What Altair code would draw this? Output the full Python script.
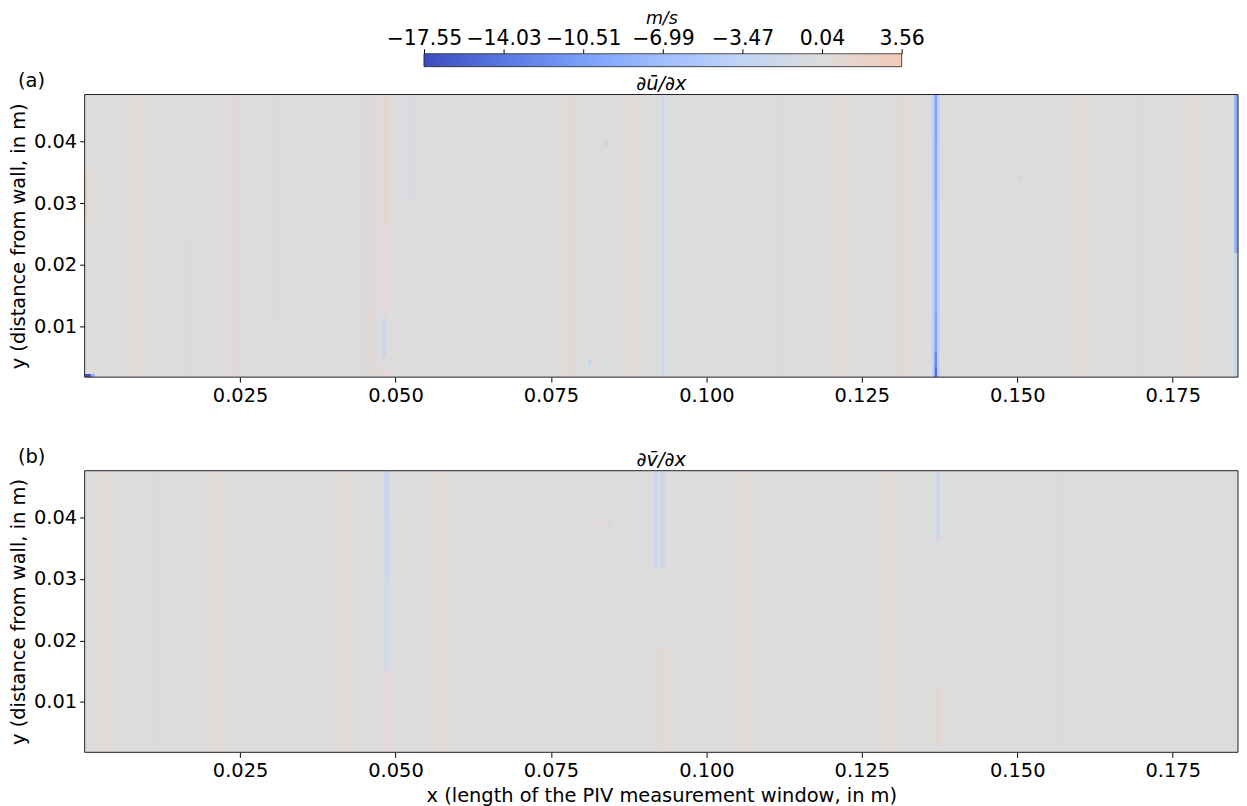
import altair as alt
import pandas as pd

FONT = "DejaVu Sans"

# ---- colour bar / colour map (matplotlib "coolwarm", symmetric norm) ----
CB_TICKS = [-17.55, -14.03, -10.51, -6.99, -3.47, 0.04, 3.56]
CMAP_STOPS = [-17.55, -14.04, -10.53, -8.775, -7.02, -3.51, 0.0, 3.51, 3.56]
CMAP_COLORS = ["#3b4cc0", "#5977e3", "#7b9ff9", "#8db0fe", "#9ebeff",
               "#c0d4f5", "#dddcdc", "#f2cbb7", "#f2cab5"]

# ---- axes ----
X_TICKS = [0.025, 0.05, 0.075, 0.1, 0.125, 0.15, 0.175]
Y_TICKS = [0.01, 0.02, 0.03, 0.04]
X_EXTENT = [0.0, 0.1855]
Y_EXTENT = [0.0018, 0.0476]

# ---- field patches: (x0, x1, y0, y1, value) ----
A_BASE = [(0.0000, 0.1855, 0.0018, 0.0476, 0.0)]
A_BANDS = [
    (0.0000, 0.0030, 0.0018, 0.0476, 0.3),
    (0.0075, 0.0100, 0.0018, 0.0476, 0.3),
    (0.0160, 0.0180, 0.0018, 0.0250, -0.3),
    (0.0235, 0.0260, 0.0018, 0.0476, 0.35),
    (0.0300, 0.0315, 0.0100, 0.0476, -0.3),
    (0.0445, 0.0470, 0.0018, 0.0476, 0.35),
    (0.0522, 0.0530, 0.0300, 0.0476, -0.8),
    (0.0645, 0.0665, 0.0018, 0.0476, 0.3),
    (0.0720, 0.0735, 0.0018, 0.0476, -0.3),
    (0.0770, 0.0790, 0.0018, 0.0476, 0.35),
    (0.0875, 0.0900, 0.0018, 0.0476, 0.3),
    (0.1005, 0.1025, 0.0018, 0.0476, 0.25),
    (0.1110, 0.1125, 0.0018, 0.0476, -0.3),
    (0.1205, 0.1225, 0.0018, 0.0476, 0.3),
    (0.1300, 0.1325, 0.0018, 0.0476, 0.35),
    (0.1450, 0.1470, 0.0018, 0.0476, -0.3),
    (0.1595, 0.1615, 0.0018, 0.0476, 0.3),
    (0.1690, 0.1710, 0.0018, 0.0476, -0.25),
    (0.1775, 0.1795, 0.0018, 0.0476, 0.3),
]
A_FEATURES = [
    (0.0000, 0.0006, 0.0273, 0.0348, 1.5),
    (0.0482, 0.0489, 0.0268, 0.0476, 1.2),
    (0.0482, 0.0489, 0.0120, 0.0268, 0.6),
    (0.0479, 0.0484, 0.0052, 0.0116, -2.8),
    (0.0476, 0.0486, 0.0018, 0.0026, 2.0),
    (0.0927, 0.0933, 0.0018, 0.0476, -1.8),
    (0.0835, 0.0840, 0.0392, 0.0400, -2.5),
    (0.0840, 0.0845, 0.0392, 0.0400, 1.8),
    (0.0810, 0.0815, 0.0036, 0.0046, -3.0),
    (0.0815, 0.0820, 0.0036, 0.0046, 1.5),
    (0.1501, 0.1506, 0.0338, 0.0346, -2.0),
    (0.1506, 0.1511, 0.0054, 0.0062, 1.5),
    (0.1363, 0.1375, 0.0018, 0.0476, -4.0),
    (0.1367, 0.1371, 0.0400, 0.0476, -10.0),
    (0.1367, 0.1371, 0.0300, 0.0400, -9.5),
    (0.1367, 0.1371, 0.0120, 0.0300, -9.0),
    (0.1367, 0.1371, 0.0060, 0.0120, -10.0),
    (0.1367, 0.1371, 0.0035, 0.0060, -12.5),
    (0.1367, 0.1371, 0.0018, 0.0035, -15.0),
    (0.1849, 0.1855, 0.0219, 0.0476, -9.0),
    (0.1849, 0.1855, 0.0018, 0.0219, -2.5),
    (0.0000, 0.0010, 0.0018, 0.0023, -17.55),
    (0.0010, 0.0016, 0.0018, 0.0023, -9.0),
]

B_BASE = [(0.0000, 0.1855, 0.0018, 0.0476, 0.0)]
B_BANDS = [
    (0.0020, 0.0045, 0.0018, 0.0476, 0.25),
    (0.0100, 0.0120, 0.0018, 0.0476, -0.25),
    (0.0200, 0.0225, 0.0018, 0.0476, 0.3),
    (0.0270, 0.0285, 0.0018, 0.0300, -0.3),
    (0.0400, 0.0425, 0.0018, 0.0476, 0.3),
    (0.0560, 0.0585, 0.0018, 0.0476, 0.25),
    (0.0680, 0.0695, 0.0018, 0.0476, -0.25),
    (0.0800, 0.0825, 0.0018, 0.0476, 0.3),
    (0.1050, 0.1075, 0.0018, 0.0476, 0.25),
    (0.1180, 0.1195, 0.0018, 0.0476, -0.25),
    (0.1280, 0.1305, 0.0018, 0.0476, 0.3),
    (0.1420, 0.1445, 0.0018, 0.0476, 0.25),
    (0.1560, 0.1575, 0.0018, 0.0476, -0.25),
    (0.1650, 0.1675, 0.0018, 0.0476, 0.3),
    (0.1790, 0.1810, 0.0018, 0.0476, -0.2),
]
B_FEATURES = [
    (0.0482, 0.0490, 0.0400, 0.0476, -3.0),
    (0.0482, 0.0490, 0.0300, 0.0400, -2.2),
    (0.0482, 0.0490, 0.0150, 0.0300, -1.2),
    (0.0482, 0.0490, 0.0018, 0.0150, 0.6),
    (0.0916, 0.0921, 0.0317, 0.0476, -2.5),
    (0.0927, 0.0933, 0.0317, 0.0476, -2.5),
    (0.0916, 0.0921, 0.0021, 0.0188, 1.0),
    (0.0927, 0.0933, 0.0021, 0.0188, 1.0),
    (0.1370, 0.1376, 0.0365, 0.0476, -2.5),
    (0.1370, 0.1376, 0.0124, 0.0365, -0.6),
    (0.1370, 0.1376, 0.0027, 0.0124, 1.6),
    (0.0750, 0.0756, 0.0405, 0.0413, -2.0),
    (0.0838, 0.0844, 0.0388, 0.0396, 1.2),
    (0.0844, 0.0848, 0.0388, 0.0396, -1.5),
]

# ---- layout (pixels) ----
PLOT_W = 1159
H_A = 284
H_B = 283
CB_H = 13
CB_LEFT_PX = 341
CB_RIGHT_PX = 821
FS = 19.5


def frame_of(rows):
    return pd.DataFrame(rows, columns=["x0", "x1", "y0", "y1", "val"])


color_scale = alt.Scale(domain=CMAP_STOPS, range=CMAP_COLORS, interpolate="rgb", clamp=True)


def panel(rows, title, label, height, xtitle):
    df = frame_of(rows)
    xaxis = alt.Axis(values=X_TICKS, format=".3f", labelPadding=4, titlePadding=7)
    xenc = alt.X("x0:Q", scale=alt.Scale(domain=X_EXTENT, nice=False, zero=False),
                 axis=xaxis, title=xtitle if xtitle else None)
    rects = alt.Chart(df).mark_rect(clip=True, strokeWidth=0).encode(
        x=xenc,
        x2="x1:Q",
        y=alt.Y("y0:Q", scale=alt.Scale(domain=Y_EXTENT, nice=False, zero=False),
                axis=alt.Axis(values=Y_TICKS, format=".2f", labelPadding=3, titlePadding=5),
                title="y (distance from wall, in m)"),
        y2="y1:Q",
        color=alt.Color("val:Q", scale=color_scale, legend=None),
    )
    one = pd.DataFrame({"k": [0]})
    border = alt.Chart(one).mark_rect(fillOpacity=0, stroke="#222222", strokeWidth=1).encode(
        x=alt.value(0), x2=alt.value(PLOT_W), y=alt.value(0), y2=alt.value(height)
    )
    tag = alt.Chart(one).mark_text(text=label, align="left", baseline="alphabetic",
                                   fontSize=FS, font=FONT, color="black").encode(
        x=alt.value(-67), y=alt.value(-8)
    )
    head = alt.Chart(one).mark_text(text=title, align="center", baseline="alphabetic",
                                    fontSize=FS, font=FONT, fontStyle="italic",
                                    color="black").encode(
        x=alt.value(PLOT_W / 2), y=alt.value(-5)
    )
    return alt.layer(rects, border, tag, head).properties(width=PLOT_W, height=height)


# colour bar: scale placed so the bar spans CB_LEFT_PX..CB_RIGHT_PX of the plot width
slope = (CB_RIGHT_PX - CB_LEFT_PX) / (CB_TICKS[-1] - CB_TICKS[0])
cb_d0 = CB_TICKS[0] - CB_LEFT_PX / slope
cb_d1 = cb_d0 + PLOT_W / slope
span = CB_TICKS[-1] - CB_TICKS[0]
grad = alt.Gradient(
    gradient="linear",
    stops=[alt.GradientStop(offset=(s - CB_TICKS[0]) / span, color=c)
           for s, c in zip(CMAP_STOPS, CMAP_COLORS)],
    x1=0, x2=1, y1=0, y2=0,
)
cb_df = pd.DataFrame({"lo": [CB_TICKS[0]], "hi": [CB_TICKS[-1]]})
colorbar = alt.Chart(cb_df).mark_rect(fill=grad, stroke="#222222", strokeWidth=0.8).encode(
    x=alt.X("lo:Q", scale=alt.Scale(domain=[cb_d0, cb_d1], nice=False, zero=False),
            axis=alt.Axis(orient="top", values=CB_TICKS, format=".2f",
                          labelExpr="replace(datum.label, '-', '\u2212')",
                          labelFontSize=20.5, labelPadding=0, titleFontSize=17.5,
                          titleFontStyle="italic", titlePadding=1),
            title="m/s"),
    x2="hi:Q",
    y=alt.value(0),
    y2=alt.value(CB_H),
).properties(width=PLOT_W, height=CB_H)

pa = panel(A_BASE + A_BANDS + A_FEATURES, "\u2202\u016b/\u2202x", "(a)", H_A, "")
pb = panel(B_BASE + B_BANDS + B_FEATURES, "\u2202v\u0304/\u2202x", "(b)", H_B,
           "x (length of the PIV measurement window, in m)")

chart = alt.vconcat(
    colorbar,
    alt.vconcat(pa, pb, spacing=42),
    spacing=3,
).properties(
    padding={"left": 0, "top": 0, "right": 0, "bottom": 0},
).configure(font=FONT).configure_view(strokeWidth=0).configure_axis(
    labelFont=FONT, labelFontSize=FS, labelColor="black",
    titleFont=FONT, titleFontSize=FS, titleFontWeight="normal", titleColor="black",
    tickColor="black", tickSize=5, tickWidth=1, domain=False, grid=False,
    labelFlush=False, labelOverlap=False,
)

chart.save("out.html", embed_options={"renderer": "svg", "actions": False})
